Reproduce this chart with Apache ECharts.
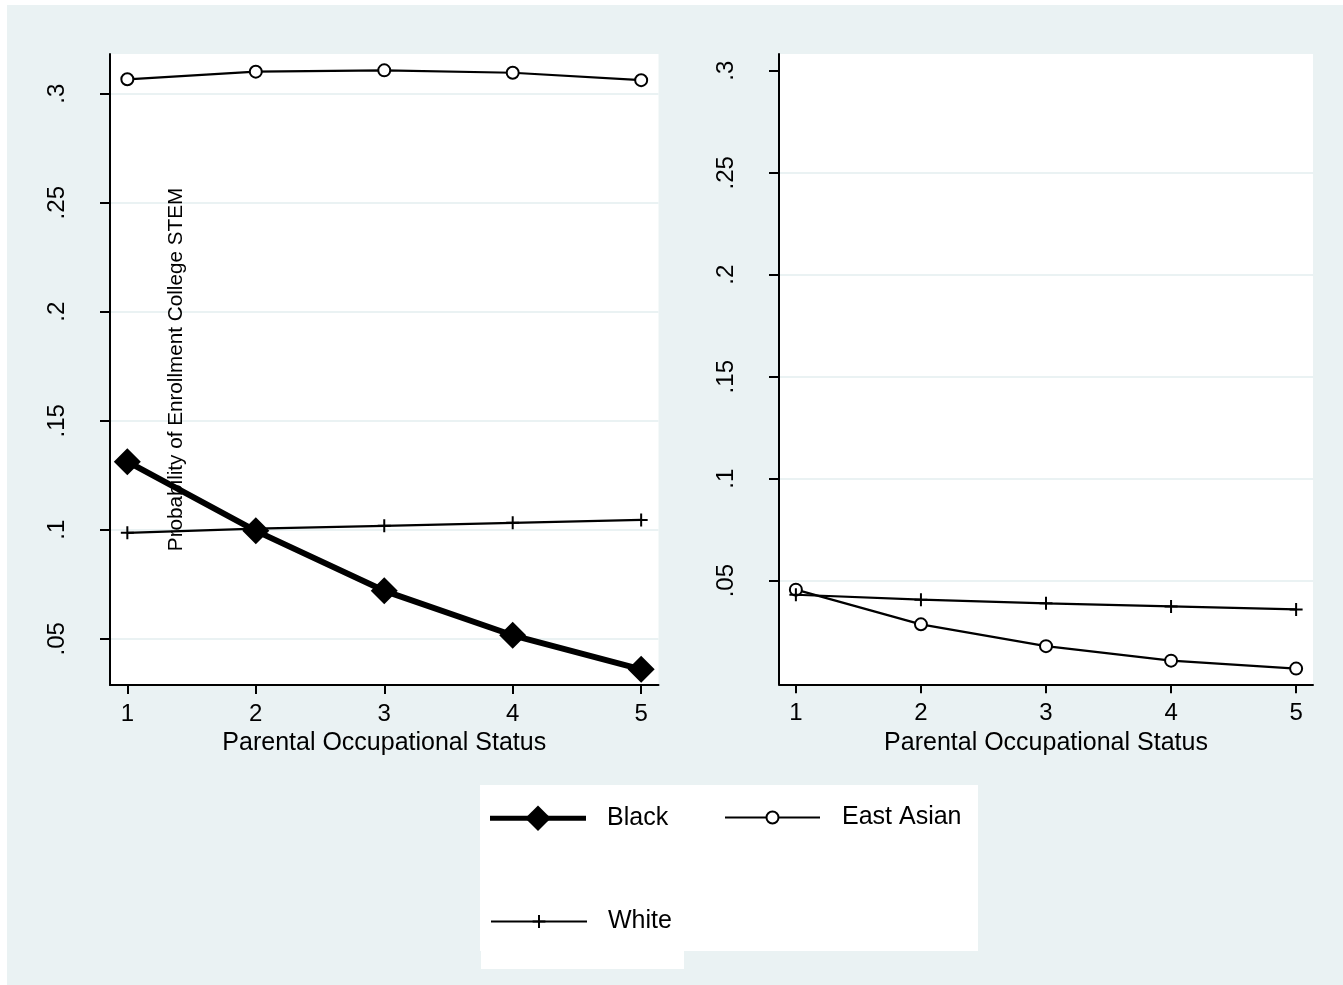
<!DOCTYPE html>
<html>
<head>
<meta charset="utf-8">
<title>Probability of Enrollment College STEM by Parental Occupational Status</title>
<script src="https://cdn.jsdelivr.net/npm/echarts@6/dist/echarts.min.js"></script>
<style>
  html, body { margin: 0; padding: 0; background: #ffffff; }
  #chart { width: 1343px; height: 985px; }
</style>
</head>
<body>
<div id="chart"></div>
<script>
// Parental occupational status levels (x)
const xValues = [1, 2, 3, 4, 5];

// Left panel: predicted probabilities
const leftBlack     = [0.1312, 0.0995, 0.0720, 0.0516, 0.0360];
const leftEastAsian = [0.3066, 0.3101, 0.3107, 0.3096, 0.3062];
const leftWhite     = [0.0986, 0.1005, 0.1018, 0.1032, 0.1045];

// Right panel: predicted probabilities
const rightEastAsian = [0.0456, 0.0286, 0.0179, 0.0108, 0.0069];
const rightWhite     = [0.0431, 0.0407, 0.0389, 0.0374, 0.0359];

// Axis ticks and their labels
const xTicks = [1, 2, 3, 4, 5];
const yTicks = [0.05, 0.1, 0.15, 0.2, 0.25, 0.3];
const yTickLabels = ['.05', '.1', '.15', '.2', '.25', '.3'];

const xTitle = 'Parental Occupational Status';
const yTitle = 'Probability of Enrollment College STEM';

const FONT = "'Liberation Sans', Arial, Helvetica, sans-serif";
const BG = '#eaf2f3';
const INK = '#000000';

const pairs = (ys) => xValues.map((x, i) => [x, ys[i]]);
const yLabel = (v) => {
  const i = yTicks.findIndex(t => Math.abs(t - v) < 1e-9);
  return i >= 0 ? yTickLabels[i] : '';
};

// Filled plus sign used as the marker for the White series
const plusPath = 'path://M5.5,0H7.5V5.5H13V7.5H7.5V13H5.5V7.5H0V5.5H5.5Z';

function makeXAxis(gridIndex) {
  return {
    type: 'value',
    gridIndex,
    min: 0.865,
    max: 5.135,
    axisLine: { onZero: false, lineStyle: { color: INK, width: 2 } },
    axisTick: { customValues: xTicks, length: 9, lineStyle: { color: INK, width: 2 } },
    axisLabel: { customValues: xTicks, margin: 17, fontSize: 24, color: INK, fontFamily: FONT },
    splitLine: { show: false },
    name: xTitle,
    nameLocation: 'middle',
    nameGap: 44,
    nameTextStyle: { fontSize: 25, color: INK, fontFamily: FONT }
  };
}

function makeYAxis(gridIndex, min, max, gridColors, extra) {
  return Object.assign({
    type: 'value',
    gridIndex,
    min,
    max,
    axisLine: { show: true, lineStyle: { color: INK, width: 2 } },
    axisTick: { show: true, customValues: yTicks, length: 10, lineStyle: { color: INK, width: 2 } },
    axisLabel: {
      customValues: yTicks, rotate: 90, margin: 41, fontSize: 24,
      color: INK, fontFamily: FONT, formatter: yLabel
    },
    splitLine: { show: true, lineStyle: { color: gridColors, width: 2 } }
  }, extra || {});
}

const blackStyle = {
  type: 'line',
  symbol: 'diamond',
  symbolSize: 27,
  lineStyle: { color: INK, width: 6 },
  itemStyle: { color: INK }
};
const eastAsianStyle = {
  type: 'line',
  symbol: 'circle',
  symbolSize: 12,
  lineStyle: { color: INK, width: 2.2 },
  itemStyle: { color: '#ffffff', borderColor: INK, borderWidth: 2 }
};
const whiteStyle = {
  type: 'line',
  symbol: plusPath,
  symbolSize: 13,
  symbolKeepAspect: true,
  lineStyle: { color: INK, width: 2.2 },
  itemStyle: { color: INK }
};

const chart = echarts.init(document.getElementById('chart'), null, { renderer: 'canvas' });

chart.setOption({
  animation: false,
  backgroundColor: BG,
  textStyle: { fontFamily: FONT, color: INK },
  graphic: {
    elements: [
      // thin white margins along the top and left edges
      { type: 'rect', shape: { x: 0, y: 0, width: 1343, height: 5 }, style: { fill: '#ffffff' }, silent: true },
      { type: 'rect', shape: { x: 0, y: 0, width: 7, height: 985 }, style: { fill: '#ffffff' }, silent: true },
      // legend box
      { type: 'rect', shape: { x: 480, y: 785, width: 498, height: 166 }, style: { fill: '#ffffff' }, silent: true },
      { type: 'rect', shape: { x: 481, y: 950, width: 203, height: 19 }, style: { fill: '#ffffff' }, silent: true }
    ]
  },
  grid: [
    { left: 110, top: 54, width: 548.5, height: 631, show: true, backgroundColor: '#ffffff', borderWidth: 0 },
    { left: 779, top: 54, width: 534, height: 630.3, show: true, backgroundColor: '#ffffff', borderWidth: 0 }
  ],
  xAxis: [makeXAxis(0), makeXAxis(1)],
  yAxis: [
    makeYAxis(0, 0.0288, 0.3182, BG, {
      name: yTitle,
      nameLocation: 'middle',
      nameRotate: 90,
      nameGap: -77,
      nameTextStyle: { fontSize: 20.7, color: INK, fontFamily: FONT }
    }),
    makeYAxis(1, -0.0008, 0.3082, [BG, BG, BG, BG, BG, 'rgba(0,0,0,0)'])
  ],
  legend: [
    {
      data: ['Black'], left: 487.5, top: 805.5, padding: 0,
      itemWidth: 96, itemHeight: 32,
      lineStyle: { width: 5, color: INK },
      textStyle: { fontSize: 25, color: INK, fontFamily: FONT, padding: [0, 0, 0, 16] },
      selectedMode: false
    },
    {
      data: ['East Asian'], left: 724, top: 805, padding: 0,
      itemWidth: 95, itemHeight: 15,
      lineStyle: { width: 2, color: INK },
      textStyle: { fontSize: 25, color: INK, fontFamily: FONT, padding: [0, 0, 0, 17] },
      selectedMode: false
    },
    {
      data: ['White'], left: 490, top: 909, padding: 0,
      itemWidth: 96, itemHeight: 16,
      lineStyle: { width: 2, color: INK },
      textStyle: { fontSize: 25, color: INK, fontFamily: FONT, padding: [0, 0, 0, 16] },
      selectedMode: false
    }
  ],
  series: [
    Object.assign({ name: 'Black', xAxisIndex: 0, yAxisIndex: 0, data: pairs(leftBlack), z: 4 }, blackStyle),
    Object.assign({ name: 'East Asian', xAxisIndex: 0, yAxisIndex: 0, data: pairs(leftEastAsian), z: 3 }, eastAsianStyle),
    Object.assign({ name: 'White', xAxisIndex: 0, yAxisIndex: 0, data: pairs(leftWhite), z: 3 }, whiteStyle),
    Object.assign({ name: 'East Asian', xAxisIndex: 1, yAxisIndex: 1, data: pairs(rightEastAsian), z: 3 }, eastAsianStyle),
    Object.assign({ name: 'White', xAxisIndex: 1, yAxisIndex: 1, data: pairs(rightWhite), z: 3 }, whiteStyle)
  ]
});
</script>
</body>
</html>
